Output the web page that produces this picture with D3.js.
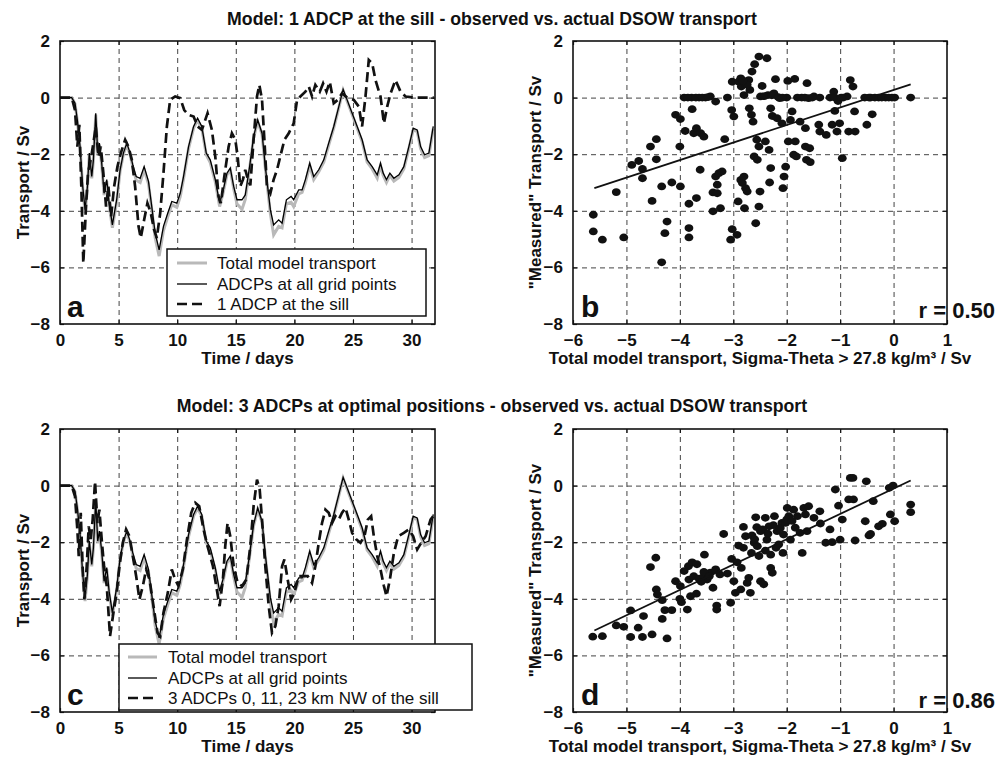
<!DOCTYPE html>
<html lang="en">
<head>
<meta charset="utf-8">
<title>DSOW transport: model vs. ADCP</title>
<script src="https://d3js.org/d3.v7.min.js"></script>
<style>
  body { margin: 0; background: #fff; }
  svg text { font-family: "Liberation Sans", Arial, Helvetica, sans-serif; fill: #111; }
  .tick-labels text { font-size: 17px; font-weight: bold; font-family: "Liberation Sans", Arial, sans-serif; fill: #111; }
  .axis-title { font-size: 17px; font-weight: bold; }
  .main-title { font-size: 17.7px; font-weight: bold; }
  .legend text { font-size: 17px; }
  .panel-letter { font-size: 30px; font-weight: bold; }
  .r-label { font-size: 22px; font-weight: bold; }
  .grid line { stroke: #444; stroke-dasharray: 5,4; stroke-width: 1; }
  .ticks line { stroke: #111; stroke-width: 1.2; }
  .frame { fill: none; stroke: #111; stroke-width: 1.6; }
  .total { fill: none; stroke: #b9b9b9; stroke-width: 3; }
  .grid-adcp { fill: none; stroke: #000; stroke-width: 1.3; }
  .single { fill: none; stroke: #111; stroke-width: 2.7; stroke-dasharray: 10,5; }
  .fit { stroke: #111; stroke-width: 1.8; }
</style>
</head>
<body>
<script>

//Width and height
var w = 1008;
var h = 760;

//Tick values
var yTicks = [-8, -6, -4, -2, 0, 2];
var timeTicks = [0, 5, 10, 15, 20, 25, 30];
var scatterTicks = [-6, -5, -4, -3, -2, -1, 0, 1];

//Total model transport (grey), [day, Sv]
var totalModel = [[0,0],[1.0,0],[1.28,-0.22],[1.48,-0.82],[1.71,-1.78],[1.94,-3.2],[2.14,-4.08],[2.34,-3.2],[2.5,-2.02],[2.71,-2.85],[2.85,-2.25],[3.05,-0.6],[3.22,-2.02],[3.36,-1.66],[3.56,-2.38],[3.76,-3.45],[3.99,-2.95],[4.19,-3.8],[4.47,-4.6],[4.84,-3.68],[5.13,-2.6],[5.41,-2.0],[5.7,-1.65],[5.98,-2.02],[6.21,-2.45],[6.5,-2.92],[6.84,-3.0],[7.18,-2.55],[7.55,-3.05],[7.83,-3.95],[8.12,-4.95],[8.46,-5.6],[8.83,-4.7],[9.2,-4.2],[9.54,-3.78],[9.97,-3.88],[10.26,-3.5],[10.54,-2.88],[10.97,-1.8],[11.4,-1.08],[11.74,-0.8],[12.1,-1.08],[12.48,-2.02],[12.82,-2.3],[13.25,-2.98],[13.62,-3.85],[13.9,-3.4],[14.25,-2.72],[14.53,-2.55],[14.82,-3.22],[15.1,-3.75],[15.53,-3.95],[15.81,-3.6],[16.18,-2.5],[16.52,-1.42],[16.87,-0.85],[17.24,-1.3],[17.52,-2.5],[17.95,-4.1],[18.23,-4.85],[18.66,-4.55],[18.95,-4.6],[19.32,-3.75],[19.72,-3.7],[19.94,-3.85],[20.37,-3.4],[20.66,-3.35],[20.94,-3.0],[21.31,-2.4],[21.65,-2.9],[22.08,-2.62],[22.51,-2.28],[22.93,-1.68],[23.36,-1.08],[23.79,-0.36],[24.16,0.26],[24.5,-0.12],[24.93,-0.6],[25.36,-1.08],[25.78,-1.55],[26.21,-2.28],[26.64,-2.52],[27.07,-2.85],[27.35,-2.4],[27.58,-2.75],[27.86,-3.0],[28.15,-2.75],[28.49,-2.95],[28.92,-2.82],[29.34,-2.52],[29.77,-1.8],[30.14,-1.14],[30.48,-1.2],[30.77,-1.8],[31.11,-2.12],[31.48,-2.05],[31.85,-1.1]];

//ADCPs at all grid points (thin black)
var allGrid = [[0,0],[1.0,0],[1.28,-0.2],[1.48,-0.79],[1.71,-1.73],[1.94,-3.14],[2.14,-3.96],[2.34,-3.14],[2.5,-1.96],[2.71,-2.79],[2.85,-2.2],[3.05,-0.55],[3.22,-1.96],[3.36,-1.61],[3.56,-2.32],[3.76,-3.38],[3.99,-2.9],[4.19,-3.73],[4.47,-4.5],[4.84,-3.6],[5.13,-2.55],[5.41,-1.96],[5.7,-1.61],[5.98,-1.96],[6.21,-2.38],[6.5,-2.79],[6.84,-2.85],[7.18,-2.44],[7.55,-2.96],[7.83,-3.85],[8.12,-4.79],[8.46,-5.38],[8.83,-4.55],[9.2,-4.08],[9.54,-3.67],[9.97,-3.73],[10.26,-3.38],[10.54,-2.79],[10.97,-1.73],[11.4,-1.02],[11.74,-0.73],[12.1,-1.02],[12.48,-1.96],[12.82,-2.2],[13.25,-2.9],[13.62,-3.73],[13.9,-3.32],[14.25,-2.67],[14.53,-2.49],[14.82,-3.14],[15.1,-3.61],[15.53,-3.61],[15.81,-3.44],[16.18,-2.44],[16.52,-1.38],[16.87,-0.79],[17.24,-1.26],[17.52,-2.44],[17.95,-3.96],[18.23,-4.5],[18.66,-4.32],[18.95,-4.44],[19.32,-3.61],[19.72,-3.49],[19.94,-3.61],[20.37,-3.26],[20.66,-3.26],[20.94,-2.9],[21.31,-2.32],[21.65,-2.79],[22.08,-2.55],[22.51,-2.2],[22.93,-1.61],[23.36,-1.02],[23.79,-0.32],[24.16,0.29],[24.5,-0.08],[24.93,-0.55],[25.36,-1.02],[25.78,-1.49],[26.21,-2.2],[26.64,-2.44],[27.07,-2.73],[27.35,-2.32],[27.58,-2.67],[27.86,-2.9],[28.15,-2.67],[28.49,-2.85],[28.92,-2.73],[29.34,-2.44],[29.77,-1.73],[30.14,-1.08],[30.48,-1.14],[30.77,-1.73],[31.11,-2.02],[31.48,-1.96],[31.85,-1.02]];

//1 ADCP at the sill (dashed, panel a)
var oneAdcp = [[0,0],[1.0,0],[1.28,-0.44],[1.48,-1.73],[1.65,-0.96],[1.82,-3.14],[1.99,-5.85],[2.22,-3.85],[2.39,-2.67],[2.62,-2.2],[2.85,-1.61],[3.05,-1.02],[3.28,-2.08],[3.48,-1.73],[3.7,-2.67],[3.93,-3.85],[4.13,-3.14],[4.36,-4.2],[4.62,-3.14],[4.9,-2.44],[5.19,-1.96],[5.56,-1.49],[5.84,-1.73],[6.13,-2.2],[6.41,-3.14],[6.7,-4.55],[6.89,-4.96],[7.18,-4.32],[7.46,-3.73],[7.75,-4.08],[8.03,-4.67],[8.26,-4.96],[8.55,-4.08],[8.83,-2.67],[9.12,-1.02],[9.4,-0.08],[9.83,0.04],[10.26,-0.02],[10.6,-0.44],[10.97,-0.61],[11.4,-0.67],[11.74,-1.02],[12.11,-1.14],[12.59,-0.55],[12.96,-1.14],[13.25,-2.08],[13.53,-3.49],[13.73,-3.73],[14.02,-2.79],[14.39,-1.73],[14.67,-1.26],[14.96,-1.49],[15.16,-2.08],[15.38,-3.14],[15.61,-2.9],[15.81,-2.55],[16.04,-2.9],[16.24,-3.1],[16.52,-1.49],[16.81,0.04],[17.01,0.45],[17.24,-0.08],[17.44,-1.49],[17.66,-3.14],[17.95,-3.38],[18.23,-2.9],[18.52,-2.55],[18.8,-2.08],[19.15,-1.49],[19.52,-1.26],[19.94,-0.91],[20.23,-0.08],[20.51,0.04],[20.94,0.21],[21.23,0.39],[21.51,0.04],[21.79,0.45],[22.17,0.21],[22.45,0.5],[22.74,0.21],[23.02,0.56],[23.36,-0.2],[23.7,-0.08],[24.07,0.15],[24.5,0],[25.07,-0.08],[25.5,-0.32],[25.78,-1.02],[26.07,0.04],[26.35,1.33],[26.64,1.21],[26.92,0.62],[27.35,0.04],[27.64,-0.91],[27.92,-0.32],[28.21,0.15],[28.63,0.62],[29.06,0.21],[29.49,0.04],[30.2,0],[31.9,0]];

//3 ADCPs 0, 11, 23 km NW of the sill (dashed, panel c)
var threeAdcp = [[0,0],[1.0,0],[1.28,-0.38],[1.48,-1.55],[1.6,-2.49],[1.77,-0.96],[1.94,-2.96],[2.08,-4.02],[2.28,-2.85],[2.45,-1.44],[2.62,-1.91],[2.79,-1.2],[2.99,0.15],[3.19,-1.32],[3.36,-0.85],[3.56,-1.91],[3.76,-2.85],[3.99,-3.55],[4.27,-5.32],[4.56,-4.49],[4.84,-3.79],[5.07,-2.85],[5.36,-2.02],[5.64,-1.55],[5.93,-1.79],[6.21,-2.49],[6.5,-3.2],[6.78,-4.02],[7.07,-3.55],[7.35,-2.96],[7.64,-3.32],[7.98,-4.26],[8.32,-5.2],[8.55,-5.32],[8.83,-4.49],[9.2,-3.79],[9.54,-2.96],[9.83,-3.32],[10.11,-3.55],[10.48,-2.96],[10.83,-1.91],[11.2,-0.96],[11.54,-0.61],[11.88,-0.73],[12.25,-1.55],[12.59,-2.14],[13.05,-2.85],[13.33,-3.55],[13.62,-4.26],[13.9,-3.32],[14.1,-2.14],[14.3,-1.32],[14.53,-1.79],[14.82,-2.85],[15.16,-3.44],[15.53,-3.55],[15.9,-3.32],[16.24,-2.14],[16.52,-0.73],[16.81,0.21],[17.04,-0.14],[17.26,-1.32],[17.52,-2.85],[17.81,-4.26],[18.09,-5.2],[18.38,-4.96],[18.66,-4.26],[18.95,-2.85],[19.15,-2.61],[19.43,-3.32],[19.72,-4.02],[20.0,-3.79],[20.37,-3.2],[20.8,-3.2],[21.14,-3.2],[21.51,-3.44],[21.79,-2.85],[22.08,-2.02],[22.36,-1.32],[22.65,-0.85],[22.93,-0.96],[23.22,-1.32],[23.5,-1.08],[23.79,-1.2],[24.07,-0.96],[24.36,-0.79],[24.64,-1.2],[24.93,-1.67],[25.3,-1.91],[25.64,-2.02],[25.98,-1.79],[26.27,-1.2],[26.55,-1.08],[26.78,-1.79],[27.07,-2.49],[27.35,-2.96],[27.64,-3.55],[27.86,-3.91],[28.15,-3.32],[28.49,-2.38],[28.86,-1.79],[29.34,-1.67],[29.77,-1.55],[30.14,-1.79],[30.48,-2.26],[30.83,-2.02],[31.2,-1.79],[31.62,-1.2],[31.85,-1.08]];

//Scatter b: [total model, measured by 1 ADCP]
var scatterB = [[-5.62,-4.14],[-5.62,-4.73],[-5.45,-5.02],[-5.19,-3.34],[-5.05,-4.94],[-4.90,-2.38],[-4.77,-2.24],[-4.70,-2.52],[-4.70,-2.85],[-4.55,-1.73],[-4.52,-3.65],[-4.44,-1.47],[-4.44,-2.18],[-4.34,-3.14],[-4.34,-5.82],[-4.28,-4.79],[-4.24,-4.38],[-4.15,-3.00],[-4.08,-0.61],[-4.00,-1.73],[-3.99,-0.76],[-3.99,-3.14],[-3.92,0],[-3.90,-1.18],[-3.83,-4.61],[-3.83,-4.94],[-3.83,-3.75],[-3.78,0],[-3.77,-0.41],[-3.74,-1.26],[-3.69,-1.08],[-3.69,-3.55],[-3.64,0],[-3.62,-2.55],[-3.61,-1.26],[-3.55,-1.38],[-3.52,0],[-3.43,0.04],[-3.38,-4.02],[-3.38,-3.35],[-3.33,-0.14],[-3.33,-2.79],[-3.30,-3.08],[-3.30,-3.38],[-3.27,-2.67],[-3.24,-3.91],[-3.21,-2.61],[-3.16,-1.47],[-3.11,0],[-3.03,-0.44],[-3.02,0.56],[-3.02,-4.65],[-3.05,-5.02],[-2.99,-0.67],[-2.93,-4.85],[-2.91,-3.67],[-2.90,0.56],[-2.86,0.68],[-2.86,-2.91],[-2.83,-3.02],[-2.85,0.39],[-2.80,0.09],[-2.80,-2.79],[-2.79,-3.91],[-2.77,-3.20],[-2.74,-3.32],[-2.71,0.62],[-2.70,-0.38],[-2.69,0.27],[-2.66,-0.61],[-2.65,0.92],[-2.63,-0.85],[-2.61,-2.08],[-2.60,1.18],[-2.58,-4.44],[-2.56,-1.49],[-2.55,-2.20],[-2.52,1.45],[-2.52,-3.85],[-2.50,-3.32],[-2.49,0.04],[-2.52,-1.73],[-2.46,0.41],[-2.40,-1.55],[-2.37,1.39],[-2.35,0.09],[-2.33,-1.85],[-2.32,-3.00],[-2.30,-2.49],[-2.30,-0.38],[-2.27,-0.65],[-2.24,0.15],[-2.21,0.65],[-2.18,-0.73],[-2.13,-0.02],[-2.09,-0.91],[-2.07,-3.20],[-2.05,-2.79],[-2.02,-2.44],[-2.00,0],[-1.98,0.59],[-1.97,-1.55],[-1.93,-0.79],[-1.90,-0.49],[-1.87,-2.02],[-1.85,0.66],[-1.84,-1.55],[-1.82,-2.08],[-1.75,-0.85],[-1.72,0],[-1.65,-1.08],[-1.62,0.51],[-1.65,-1.73],[-1.63,-2.20],[-1.59,-0.02],[-1.57,-1.79],[-1.56,-2.28],[-1.49,0.04],[-1.40,-0.96],[-1.38,0],[-1.38,-1.20],[-1.26,-1.32],[-1.19,0],[-1.15,-0.96],[-1.12,0.21],[-1.10,-0.47],[-1.06,-1.20],[-1.04,-0.12],[-1.01,-0.91],[-0.96,-2.14],[-0.94,0],[-0.87,0.04],[-0.84,-1.20],[-0.81,0.62],[-0.76,0.39],[-0.73,-0.49],[-0.72,-1.20],[-0.54,0],[-0.50,-0.96],[-0.43,0],[-0.40,-0.59],[-0.28,0],[-0.15,0],[-0.03,0],[0.32,0],[-3.85,0],[-3.70,0],[-3.58,0],[-3.47,0.02],[-2.42,0.05],[-2.28,0.08],[-2.16,0.02],[-2.08,0],[-1.80,0],[-1.66,0],[-1.52,0],[-1.10,0],[-0.98,0],[-0.46,0],[-0.35,0],[-0.22,0],[-0.09,0],[0.02,0],[-2.78,0.5],[-2.74,0.45],[-2.82,0.6]];

//Scatter d: [total model, measured by 3 ADCPs]
var scatterD = [[-5.63,-5.34],[-5.45,-5.32],[-5.19,-4.94],[-5.05,-4.99],[-4.92,-5.35],[-4.92,-4.41],[-4.78,-5.02],[-4.70,-5.35],[-4.68,-4.61],[-4.55,-2.88],[-4.52,-5.26],[-4.45,-2.55],[-4.44,-3.67],[-4.42,-3.85],[-4.33,-4.05],[-4.33,-4.71],[-4.28,-4.40],[-4.24,-5.40],[-4.15,-4.40],[-4.08,-3.38],[-4.00,-4.00],[-3.99,-3.55],[-3.97,-4.12],[-3.92,-3.02],[-3.86,-4.38],[-3.84,-2.85],[-3.83,-3.32],[-3.80,-3.91],[-3.77,-2.71],[-3.74,-3.20],[-3.69,-3.82],[-3.68,-2.78],[-3.64,-3.29],[-3.55,-3.20],[-3.54,-2.44],[-3.49,-3.32],[-3.43,-3.08],[-3.38,-3.61],[-3.33,-2.96],[-3.31,-4.24],[-3.31,-4.38],[-3.25,-3.14],[-3.18,-1.71],[-3.11,-3.11],[-3.03,-2.59],[-3.05,-4.14],[-2.99,-3.38],[-2.96,-3.79],[-2.93,-2.71],[-2.90,-2.12],[-2.86,-3.67],[-2.85,-2.91],[-2.81,-1.46],[-2.81,-2.20],[-2.77,-1.79],[-2.74,-3.44],[-2.71,-3.26],[-2.68,-3.79],[-2.66,-2.38],[-2.65,-1.76],[-2.61,-2.02],[-2.58,-1.12],[-2.56,-1.47],[-2.55,-2.14],[-2.52,-2.49],[-2.49,-3.38],[-2.49,-1.61],[-2.43,-3.49],[-2.40,-1.14],[-2.37,-1.91],[-2.33,-1.44],[-2.30,-2.91],[-2.30,-2.44],[-2.27,-3.08],[-2.23,-1.08],[-2.18,-1.61],[-2.15,-2.08],[-2.09,-1.32],[-2.07,-2.38],[-2.06,-1.73],[-2.02,-1.32],[-1.99,-0.79],[-1.96,-1.08],[-1.93,-1.91],[-1.87,-0.85],[-1.84,-1.49],[-1.80,-1.08],[-1.75,-1.67],[-1.71,-2.38],[-1.68,-0.79],[-1.65,-1.02],[-1.62,-1.61],[-1.59,-0.73],[-1.49,-1.14],[-1.38,-0.91],[-1.37,-1.34],[-1.27,-2.02],[-1.19,-1.55],[-1.15,-2.00],[-1.09,-0.14],[-1.03,-0.71],[-1.00,-1.91],[-0.96,-1.20],[-0.84,-0.49],[-0.81,0.27],[-0.76,0.27],[-0.75,-0.49],[-0.72,-1.94],[-0.53,-1.26],[-0.51,0.15],[-0.46,-1.76],[-0.43,-1.71],[-0.38,-0.55],[-0.28,-1.44],[-0.21,-1.35],[-0.08,-0.08],[-0.06,-1.02],[-0.01,0],[0.02,-1.26],[0.32,-0.67],[0.32,-0.94],[-2.45,-1.55],[-2.35,-1.70],[-2.25,-1.40],[-2.12,-1.50],[-2.00,-1.20],[-1.90,-1.25],[-2.60,-1.90],[-3.55,-3.05],[-3.45,-3.20],[-3.60,-3.40],[-2.20,-2.20],[-2.40,-2.30]];

//Fitted lines, [x, y] end points
var fitB = [[-5.6, -3.2], [0.32, 0.47]];
var fitD = [[-5.6, -5.12], [0.32, 0.18]];

var legendA = ["Total model transport", "ADCPs at all grid points", "1 ADCP at the sill"];
var legendC = ["Total model transport", "ADCPs at all grid points", "3 ADCPs 0, 11, 23 km NW of the sill"];

var titles = ["Model: 1 ADCP at the sill - observed vs. actual DSOW transport",
              "Model: 3 ADCPs at optimal positions - observed vs. actual DSOW transport"];

//Create SVG element
var svg = d3.select("body")
            .append("svg")
            .attr("width", w)
            .attr("height", h);

var intFormat = d3.format("d");

//Sets up scales, grid, ticks for one panel
function makePanel(box, xDomain, xTicks) {
    var x = d3.scaleLinear().domain(xDomain).range([box.left, box.left + box.width]);
    var y = d3.scaleLinear().domain([-8, 2]).range([box.top + box.height, box.top]);
    var bottom = box.top + box.height;
    var right = box.left + box.width;
    var g = svg.append("g");

    //dashed grid
    g.append("g")
        .attr("class", "grid")
        .attr("transform", "translate(0," + bottom + ")")
        .call(d3.axisBottom(x).tickValues(xTicks.filter(function(t) { return t > xDomain[0] && t < xDomain[1]; }))
              .tickSize(-box.height).tickFormat(""))
        .call(function(a) { a.select(".domain").remove(); });
    g.append("g")
        .attr("class", "grid")
        .attr("transform", "translate(" + box.left + ",0)")
        .call(d3.axisLeft(y).tickValues([-6, -4, -2, 0]).tickSize(-box.width).tickFormat(""))
        .call(function(a) { a.select(".domain").remove(); });

    //labelled axes, ticks pointing in
    g.append("g")
        .attr("class", "tick-labels ticks")
        .attr("transform", "translate(0," + bottom + ")")
        .call(d3.axisBottom(x).tickValues(xTicks).tickFormat(intFormat)
              .tickSizeInner(-4).tickSizeOuter(0).tickPadding(10))
        .call(function(a) { a.select(".domain").remove(); });
    g.append("g")
        .attr("class", "tick-labels ticks")
        .attr("transform", "translate(" + box.left + ",0)")
        .call(d3.axisLeft(y).tickValues(yTicks).tickFormat(intFormat)
              .tickSizeInner(-4).tickSizeOuter(0).tickPadding(10))
        .call(function(a) { a.select(".domain").remove(); });
    g.append("g")
        .attr("class", "ticks")
        .attr("transform", "translate(0," + box.top + ")")
        .call(d3.axisTop(x).tickValues(xTicks).tickSizeInner(-4).tickSizeOuter(0).tickFormat(""))
        .call(function(a) { a.select(".domain").remove(); });
    g.append("g")
        .attr("class", "ticks")
        .attr("transform", "translate(" + right + ",0)")
        .call(d3.axisRight(y).tickValues(yTicks).tickSizeInner(-4).tickSizeOuter(0).tickFormat(""))
        .call(function(a) { a.select(".domain").remove(); });

    return { x: x, y: y, g: g, box: box };
}

function drawFrame(p) {
    svg.append("rect")
        .attr("class", "frame")
        .attr("x", p.box.left)
        .attr("y", p.box.top)
        .attr("width", p.box.width)
        .attr("height", p.box.height);
}

function drawSeries(p, dashed) {
    var line = d3.line()
        .x(function(d) { return p.x(d[0]); })
        .y(function(d) { return p.y(d[1]); });
    svg.append("path").datum(totalModel).attr("class", "total").attr("d", line);
    svg.append("path").datum(allGrid).attr("class", "grid-adcp").attr("d", line);
    svg.append("path").datum(dashed).attr("class", "single").attr("d", line);
}

function drawLegend(lx, ly, lw, lh, sample, rows, labels) {
    var g = svg.append("g").attr("class", "legend");
    g.append("rect")
        .attr("x", lx).attr("y", ly)
        .attr("width", lw).attr("height", lh)
        .attr("fill", "#fff").attr("stroke", "#111").attr("stroke-width", 1.5);
    var cls = ["total", "grid-adcp", "single"];
    labels.forEach(function(t, i) {
        g.append("line")
            .attr("class", cls[i])
            .attr("x1", sample[0]).attr("x2", sample[1])
            .attr("y1", rows[i]).attr("y2", rows[i]);
        g.append("text")
            .attr("x", sample[2])
            .attr("y", rows[i] + 6)
            .text(t);
    });
}

function drawScatter(p, pts, fit) {
    svg.append("g").selectAll("ellipse")
        .data(pts)
        .enter()
        .append("ellipse")
        .attr("cx", function(d) { return p.x(d[0]); })
        .attr("cy", function(d) { return p.y(d[1]); })
        .attr("rx", 4.4)
        .attr("ry", 3.9)
        .attr("fill", "#111");
    svg.append("line")
        .attr("class", "fit")
        .attr("x1", p.x(fit[0][0])).attr("y1", p.y(fit[0][1]))
        .attr("x2", p.x(fit[1][0])).attr("y2", p.y(fit[1][1]));
}

function axisTitles(p, xt, yt, xtY, ytX) {
    svg.append("text")
        .attr("class", "axis-title")
        .attr("text-anchor", "middle")
        .attr("x", p.box.left + p.box.width / 2)
        .attr("y", xtY)
        .text(xt);
    svg.append("text")
        .attr("class", "axis-title")
        .attr("text-anchor", "middle")
        .attr("transform", "translate(" + ytX + "," + (p.box.top + p.box.height / 2) + ") rotate(-90)")
        .text(yt);
}

function letter(x, y, t) {
    svg.append("text").attr("class", "panel-letter").attr("x", x).attr("y", y).text(t);
}

function rLabel(x, y, t) {
    svg.append("text").attr("class", "r-label").attr("text-anchor", "end").attr("x", x).attr("y", y).text(t);
}

//Panel a
var pa = makePanel({ left: 60, top: 41, width: 375, height: 283 }, [0, 32], timeTicks);
drawSeries(pa, oneAdcp);
drawFrame(pa);
drawLegend(167, 249, 259, 67, [177, 207, 217], [263, 284, 304], legendA);
letter(67, 317, "a");
axisTitles(pa, "Time / days", "Transport / Sv", 364, 29);

//Panel b
var pb = makePanel({ left: 573, top: 41, width: 374, height: 283 }, [-6, 1], scatterTicks);
drawScatter(pb, scatterB, fitB);
drawFrame(pb);
letter(581, 317, "b");
rLabel(995, 318, "r = 0.50");
axisTitles(pb, "Total model transport, Sigma-Theta > 27.8 kg/m\u00B3 / Sv", "\"Measured\" Transport / Sv", 364, 541);

//Panel c
var pc = makePanel({ left: 60, top: 429, width: 375, height: 283 }, [0, 32], timeTicks);
drawSeries(pc, threeAdcp);
drawFrame(pc);
drawLegend(119, 644, 353, 66, [128, 157, 168], [657, 678, 698], legendC);
letter(67, 705, "c");
axisTitles(pc, "Time / days", "Transport / Sv", 752, 29);

//Panel d
var pd = makePanel({ left: 573, top: 429, width: 374, height: 283 }, [-6, 1], scatterTicks);
drawScatter(pd, scatterD, fitD);
drawFrame(pd);
letter(581, 705, "d");
rLabel(995, 708, "r = 0.86");
axisTitles(pd, "Total model transport, Sigma-Theta > 27.8 kg/m\u00B3 / Sv", "\"Measured\" Transport / Sv", 752, 541);

//Titles
svg.append("text").attr("class", "main-title").attr("text-anchor", "middle")
    .attr("x", 492).attr("y", 25).text(titles[0]);
svg.append("text").attr("class", "main-title").attr("text-anchor", "middle")
    .attr("x", 492).attr("y", 412).text(titles[1]);

</script>
</body>
</html>
